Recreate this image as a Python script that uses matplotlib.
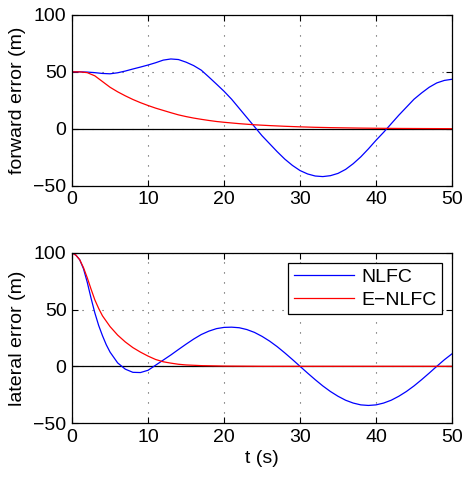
import matplotlib
matplotlib.use("Agg")
import matplotlib.pyplot as plt

plt.rcParams['font.family'] = ['Liberation Sans', 'DejaVu Sans']

# forward error, top panel
t_fwd_nlfc = [0, 1, 2, 3, 4, 5, 6, 7, 8, 9, 10, 11, 12, 13, 14, 15, 16, 17, 18, 19, 20,
              21, 22, 23, 24, 25, 26, 27, 28, 29, 30, 31, 32, 33, 34, 35, 36, 37, 38, 39, 40,
              41, 42, 43, 44, 45, 46, 47, 48, 49, 50]
fwd_nlfc = [50, 50, 49.8, 49.3, 48.6, 48.3, 49.2, 50.7, 52.5, 54.2, 56, 58, 60.3, 61.3, 60.8, 58.5,
            55.5, 51.5, 45.5, 39.3, 33, 26, 18, 10, 2, -6, -13, -20, -26.5, -32, -36.5, -39.5,
            -41.3, -41.8, -41, -39, -35.5, -30.5, -24.5, -17.5, -10, -3, 4.5, 12, 19, 26, 31.5,
            36.5, 40.3, 42.5, 43.5]

t_fwd_enlfc = [0, 1, 2, 3, 4, 5, 6, 7, 8, 9, 10, 11, 12, 13, 14, 15, 16, 17, 18, 19, 20,
               22, 24, 26, 28, 30, 32, 34, 36, 38, 40, 43, 46, 50]
fwd_enlfc = [50, 50, 49.3, 46.5, 41.5, 36.5, 32.5, 29, 25.8, 23, 20.5, 18.2, 16.2, 14.2, 12.3,
             10.8, 9.5, 8.4, 7.4, 6.5, 5.8, 4.6, 3.6, 2.9, 2.3, 1.8, 1.4, 1.1, 0.9, 0.7, 0.55,
             0.4, 0.3, 0.2]

# lateral error, bottom panel
t_lat_nlfc = [0, 0.5, 1, 1.5, 2, 2.5, 3, 3.5, 4, 4.5, 5, 6, 7, 8, 9, 10, 11, 12, 13, 14, 15,
              16, 17, 18, 19, 20, 21, 22, 23, 24, 25, 26, 27, 28, 29, 30, 31, 32, 33, 34, 35,
              36, 37, 38, 39, 40, 41, 42, 43, 44, 45, 46, 47, 48, 49, 50]
lat_nlfc = [100, 98, 94, 86, 74, 60, 47, 36, 27, 19, 12.5, 3, -2.5, -5.3, -5.5, -3.5, 1, 5.5,
            10, 14.8, 19.5, 24, 28, 31, 33.2, 34.3, 34.5, 34, 32.4, 29.9, 26.4, 22.2, 17.3,
            11.8, 6, 0, -6, -11.8, -17.3, -22.2, -26.4, -29.9, -32.4, -34, -34.5, -34, -32.4,
            -29.9, -26.4, -22.2, -17.3, -11.8, -6, 0, 5.8, 11]

t_lat_enlfc = [0, 0.5, 1, 1.5, 2, 2.5, 3, 3.5, 4, 5, 6, 7, 8, 9, 10, 11, 12, 13, 14, 15,
               17, 20, 25, 30, 35, 40, 45, 50]
lat_enlfc = [100, 98, 94, 87, 78, 68, 58.5, 51, 44.5, 35, 27.5, 21.5, 16.5, 12.5, 9, 6, 4,
             2.8, 1.8, 1.2, 0.6, 0.2, 0, 0, 0, 0, 0, 0]

xticks = [0, 10, 20, 30, 40, 50]
yticks = [-50, 0, 50, 100]
fs = 14

fig = plt.figure(figsize=(4.65, 4.78), dpi=100)
ax1 = fig.add_axes([0.155, 0.611, 0.817, 0.358])
ax2 = fig.add_axes([0.155, 0.115, 0.817, 0.356])


def style(ax):
    ax.set_xlim(0, 50)
    ax.set_ylim(-50, 100)
    ax.set_xticks(xticks)
    ax.set_yticks(yticks)
    ax.tick_params(direction='in', top=True, right=True, length=4, width=0.8,
                   labelsize=fs, pad=4)
    ax.grid(True, linestyle=(0, (1, 8)), color='black', linewidth=0.8, alpha=0.7)
    ax.axhline(0, color='black', linewidth=0.9, zorder=1)
    for s in ax.spines.values():
        s.set_linewidth(0.9)


ax1.plot(t_fwd_nlfc, fwd_nlfc, color='blue', linewidth=0.9, label='NLFC')
ax1.plot(t_fwd_enlfc, fwd_enlfc, color='red', linewidth=0.9, label='E\u2212NLFC')
style(ax1)
ax1.set_ylabel('forward error (m)', fontsize=fs, labelpad=5)

ax2.plot(t_lat_nlfc, lat_nlfc, color='blue', linewidth=0.9, label='NLFC')
ax2.plot(t_lat_enlfc, lat_enlfc, color='red', linewidth=0.9, label='E\u2212NLFC')
style(ax2)
ax2.set_ylabel('lateral error (m)', fontsize=fs, labelpad=5)
ax2.set_xlabel('t (s)', fontsize=fs, labelpad=3)

leg = ax2.legend(loc='upper right', fontsize=fs, fancybox=False, framealpha=1,
                 edgecolor='black', handlelength=3.1, borderaxespad=0.5,
                 labelspacing=0.25, handletextpad=0.35, borderpad=0.3)
leg.get_frame().set_linewidth(0.9)

fig.savefig('out.png', dpi=100)
